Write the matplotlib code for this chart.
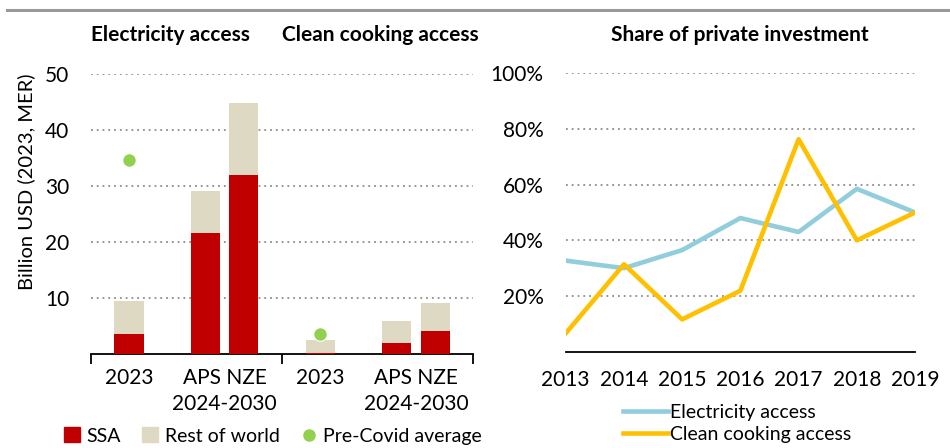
import matplotlib
matplotlib.use("Agg")
import matplotlib.pyplot as plt
from matplotlib.lines import Line2D
from matplotlib.patches import Patch
import matplotlib.transforms as mtrans

plt.rcParams['font.family'] = ['Lato', 'DejaVu Sans']

# ---- data ----
bar_groups = ["Electricity access", "Clean cooking access"]
bar_labels = ["2023", "APS", "NZE", "2023", "APS", "NZE"]
ssa = [3.6, 21.7, 32.1, 0.3, 2.0, 4.1]
rest_total = [9.6, 29.2, 44.8, 2.6, 5.9, 9.2]
pre_covid = [34.7, None, None, 3.6, None, None]

years = [2013, 2014, 2015, 2016, 2017, 2018, 2019]
elec_share = [0.327, 0.300, 0.365, 0.480, 0.430, 0.585, 0.500]
cook_share = [0.066, 0.314, 0.116, 0.219, 0.763, 0.400, 0.500]

C_SSA = "#C00000"
C_ROW = "#DDD9C3"
C_DOT = "#92D050"
C_ELEC = "#92CDDC"
C_COOK = "#FFC000"
GRID = "#8c8c8c"
FS = 15
TFS = 15
LFS = 14

fig = plt.figure(figsize=(9.5, 4.48), dpi=100)

# top gray rule
fig.add_artist(Line2D([7/950, 1.0], [1-10/448, 1-10/448], color="#999999", lw=2.2))

# ---- left: bars ----
ax = fig.add_axes([0.0955, 0.2092, 0.4028, 0.625])
pos = [0, 2, 3, 5, 7, 8]
rest = [t - s for t, s in zip(rest_total, ssa)]
ax.bar(pos, ssa, width=0.76, color=C_SSA, zorder=3)
ax.bar(pos, rest, bottom=ssa, width=0.76, color=C_ROW, zorder=3)
dx = [p for p, v in zip(pos, pre_covid) if v is not None]
dy = [v for v in pre_covid if v is not None]
ax.scatter(dx, dy, s=95, color=C_DOT, zorder=4, edgecolor="white", linewidth=0.8)
ax.set_xlim(-1, 9)
ax.set_ylim(0, 50)
ax.set_yticks([10, 20, 30, 40, 50])
ax.tick_params(axis='y', length=0, labelsize=FS, pad=15.5)
ax.grid(axis='y', linestyle=(0, (1, 2.2)), color=GRID, lw=1.3, zorder=0)
for s in ["left", "right", "top"]:
    ax.spines[s].set_visible(False)
ax.spines["bottom"].set_linewidth(1.3)
ax.set_xticks([-1, 4, 9])
ax.set_xticklabels([])
ax.tick_params(axis='x', length=7, width=1.3, direction='out')
tr = ax.get_xaxis_transform()
off1 = mtrans.offset_copy(tr, fig=fig, x=0, y=-24, units='dots')
off2 = mtrans.offset_copy(tr, fig=fig, x=0, y=-50, units='dots')
for p, lab in zip(pos, bar_labels):
    if lab == "2023":
        ax.text(p, 0, lab, transform=off1, ha='center', va='center', fontsize=FS)
ax.text(2.5, 0, "APS NZE", transform=off1, ha='center', va='center', fontsize=FS)
ax.text(7.5, 0, "APS NZE", transform=off1, ha='center', va='center', fontsize=FS)
ax.text(2.5, 0, "2024-2030", transform=off2, ha='center', va='center', fontsize=FS)
ax.text(7.5, 0, "2024-2030", transform=off2, ha='center', va='center', fontsize=FS)
ax.set_ylabel("Billion USD (2023, MER)", fontsize=FS - 0.5)
ax.yaxis.set_label_coords(-0.145, 0.615)
fig.text(170/950, 1-35/448, bar_groups[0], ha='center', va='center', fontsize=TFS, fontweight='bold')
fig.text(380/950, 1-35/448, bar_groups[1], ha='center', va='center', fontsize=TFS, fontweight='bold')

handles = [Patch(color=C_SSA, label="SSA"), Patch(color=C_ROW, label="Rest of world"),
           Line2D([], [], marker='o', color=C_DOT, lw=0, markersize=8, label="Pre-Covid average")]
fig.legend(handles=handles, loc='center', bbox_to_anchor=(273/950, 1-436/448), ncol=3,
           frameon=False, fontsize=LFS, handlelength=0.8, handleheight=0.8, handletextpad=0.35,
           columnspacing=1.1, borderpad=0)

# ---- right: lines ----
ax2 = fig.add_axes([0.5955, 0.2150, 0.3677, 0.6214])
ax2.plot(years, elec_share, color=C_ELEC, lw=3.3, zorder=3, label="Electricity access")
ax2.plot(years, cook_share, color=C_COOK, lw=3.3, zorder=4, label="Clean cooking access")
ax2.set_xlim(2013, 2019)
ax2.set_ylim(0, 1)
ax2.set_yticks([0.2, 0.4, 0.6, 0.8, 1.0])
ax2.set_yticklabels(["20%", "40%", "60%", "80%", "100%"])
ax2.set_xticks(years)
ax2.tick_params(axis='y', length=0, labelsize=FS, pad=16)
ax2.tick_params(axis='x', length=0, labelsize=FS, pad=13)
ax2.grid(axis='y', linestyle=(0, (1, 2.2)), color=GRID, lw=1.3, zorder=0)
for s in ["left", "right", "top"]:
    ax2.spines[s].set_visible(False)
ax2.spines["bottom"].set_linewidth(1.3)
fig.text(740/950, 1-35/448, "Share of private investment", ha='center', va='center',
         fontsize=TFS, fontweight='bold')
fig.legend(handles=[Line2D([], [], color=C_ELEC, lw=3.3, label="Electricity access"),
                    Line2D([], [], color=C_COOK, lw=3.3, label="Clean cooking access")],
           loc='center left', bbox_to_anchor=(613/950, 1-423.5/448), frameon=False, fontsize=14,
           handlelength=2.35, handletextpad=0.1, labelspacing=0.28, borderpad=0)

fig.savefig("out.png", dpi=100)
